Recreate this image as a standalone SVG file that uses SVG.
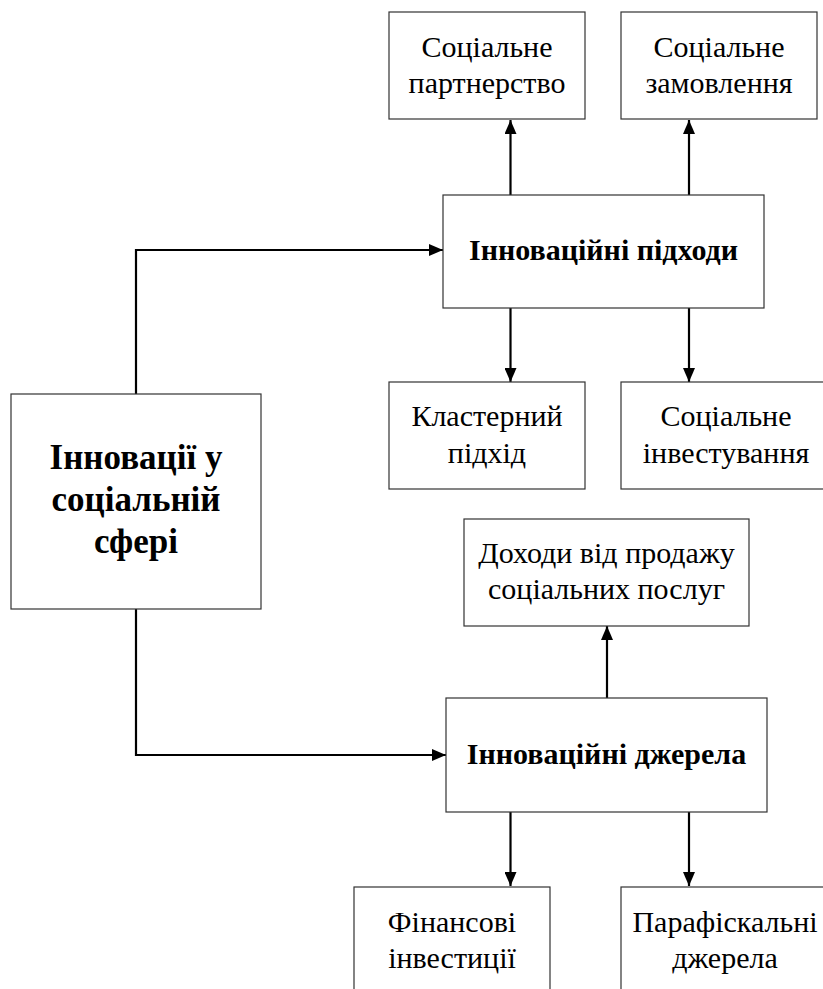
<svg xmlns="http://www.w3.org/2000/svg" width="823" height="989" viewBox="0 0 823 989">
<style>
.box{fill:#fff;stroke:#333;stroke-width:1.2}
.t{font-family:"Liberation Serif","Times New Roman",serif;font-size:30px;fill:#000;text-anchor:middle}
.b{font-family:"Liberation Serif","Times New Roman",serif;font-size:30px;font-weight:bold;fill:#000;text-anchor:middle}
.bb{font-family:"Liberation Serif","Times New Roman",serif;font-size:35px;font-weight:bold;fill:#000;text-anchor:middle}
.c{fill:none;stroke:#000;stroke-width:2.2}
</style>
<defs>
<marker id="ah" viewBox="0 0 14 12" refX="14" refY="6" markerWidth="14" markerHeight="12" markerUnits="userSpaceOnUse" orient="auto">
<path d="M0,0 L14,6 L0,12 Z" fill="#000"/>
</marker>
</defs>
<g id="connectors">
<path class="c" d="M136,394 V250 H443" marker-end="url(#ah)"/>
<path class="c" d="M136,609 V755 H446" marker-end="url(#ah)"/>
<path class="c" d="M510.5,195 V120" marker-end="url(#ah)"/>
<path class="c" d="M689,195 V120" marker-end="url(#ah)"/>
<path class="c" d="M510.5,308 V382" marker-end="url(#ah)"/>
<path class="c" d="M689,308 V382" marker-end="url(#ah)"/>
<path class="c" d="M607,698 V626" marker-end="url(#ah)"/>
<path class="c" d="M510.5,812 V886" marker-end="url(#ah)"/>
<path class="c" d="M689,812 V886" marker-end="url(#ah)"/>
</g>
<g id="n-main">
<rect class="box" x="11" y="394" width="250" height="215"/>
<text class="bb" x="136" y="469">Інновації у</text>
<text class="bb" x="136" y="511">соціальній</text>
<text class="bb" x="136" y="553">сфері</text>
</g>
<g id="n-approaches">
<rect class="box" x="443" y="195" width="321" height="113"/>
<text class="b" x="603.5" y="260">Інноваційні підходи</text>
</g>
<g id="n-partnership">
<rect class="box" x="389" y="12" width="196" height="107"/>
<text class="t" x="487" y="57">Соціальне</text>
<text class="t" x="487" y="93">партнерство</text>
</g>
<g id="n-order">
<rect class="box" x="621" y="12" width="196" height="107"/>
<text class="t" x="719" y="57">Соціальне</text>
<text class="t" x="719" y="93">замовлення</text>
</g>
<g id="n-cluster">
<rect class="box" x="389" y="382" width="196" height="107"/>
<text class="t" x="487" y="426">Кластерний</text>
<text class="t" x="487" y="463">підхід</text>
</g>
<g id="n-invest">
<rect class="box" x="621" y="382" width="210" height="107"/>
<text class="t" x="726" y="426">Соціальне</text>
<text class="t" x="726" y="463">інвестування</text>
</g>
<g id="n-income">
<rect class="box" x="464" y="519" width="285" height="107"/>
<text class="t" x="606.5" y="563">Доходи від продажу</text>
<text class="t" x="606.5" y="599">соціальних послуг</text>
</g>
<g id="n-sources">
<rect class="box" x="446" y="698" width="321" height="114"/>
<text class="b" x="606.5" y="764">Інноваційні джерела</text>
</g>
<g id="n-financial">
<rect class="box" x="354" y="887" width="196" height="110"/>
<text class="t" x="452" y="932">Фінансові</text>
<text class="t" x="452" y="968">інвестиції</text>
</g>
<g id="n-parafiscal">
<rect class="box" x="621" y="887" width="210" height="110"/>
<text class="t" x="725" y="932">Парафіскальні</text>
<text class="t" x="725" y="968">джерела</text>
</g>
</svg>
